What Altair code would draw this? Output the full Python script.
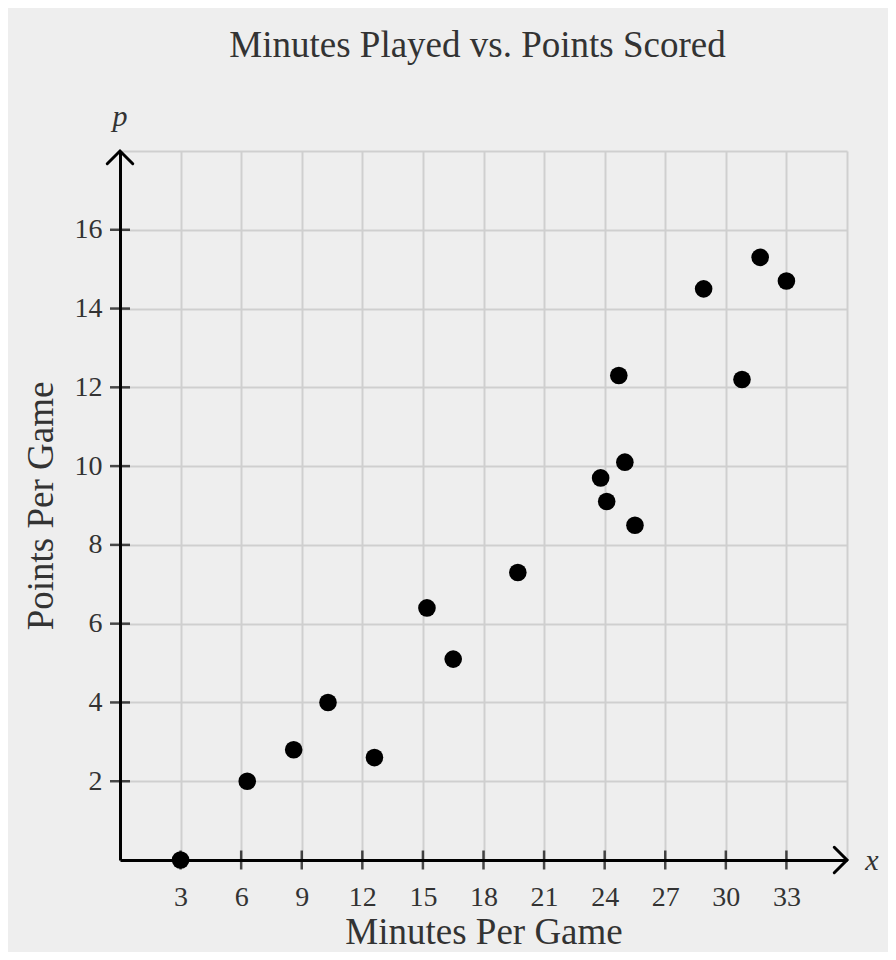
import altair as alt
import pandas as pd

# ---- data ----
minutes = [3.0, 6.3, 8.6, 10.3, 12.6, 15.2, 16.5, 19.7, 23.8, 24.1, 24.7, 25.0, 25.5, 28.9, 30.8, 31.7, 33.0]
points = [0.0, 2.0, 2.8, 4.0, 2.6, 6.4, 5.1, 7.3, 9.7, 9.1, 12.3, 10.1, 8.5, 14.5, 12.2, 15.3, 14.7]

x_tick_labels = [3, 6, 9, 12, 15, 18, 21, 24, 27, 30, 33]
y_tick_labels = [2, 4, 6, 8, 10, 12, 14, 16]
x_domain = [0, 36]
y_domain = [0, 18]
x_grid = [0, 1.5, 3, 4.5, 6, 7.5, 9, 10.5, 12, 13.5, 15, 16.5, 18, 19.5, 21, 22.5,
          24, 25.5, 27, 28.5, 30, 31.5, 33, 34.5, 36]
y_grid = list(range(0, 19))

FONT = "Liberation Serif"
TEXT = "#333333"
GRID = "#cfcfcf"
BG = "#eeeeee"

df = pd.DataFrame({"minutes": minutes, "points": points})
xt = pd.DataFrame({"minutes": x_tick_labels, "points": [y_domain[0]] * len(x_tick_labels)})
yt = pd.DataFrame({"minutes": [x_domain[0]] * len(y_tick_labels), "points": y_tick_labels})
x_end = pd.DataFrame({"minutes": [x_domain[1]], "points": [y_domain[0]]})
y_end = pd.DataFrame({"minutes": [x_domain[0]], "points": [y_domain[1]]})

xscale = alt.Scale(domain=x_domain, nice=False, zero=False)
yscale = alt.Scale(domain=y_domain, nice=False, zero=False)

x_axis = alt.Axis(
    values=x_grid, grid=True, gridColor=GRID, gridWidth=2,
    ticks=False, tickSize=0,
    labelExpr="(datum.value % 3 == 0 && datum.value > 0 && datum.value < 36) ? datum.label : ''",
    labelFont=FONT, labelFontSize=28, labelColor=TEXT, labelPadding=23, labelOverlap=False,
    domain=True, domainColor="black", domainWidth=3,
    title="Minutes Per Game", titleFont=FONT, titleFontSize=37, titleFontWeight="normal",
    titleColor=TEXT, titleY=83, titleBaseline="alphabetic",
)
y_axis = alt.Axis(
    values=y_grid, grid=True, gridColor=GRID, gridWidth=2,
    ticks=False, tickSize=0,
    labelExpr="(datum.value % 2 == 0 && datum.value > 0 && datum.value < 18) ? datum.label : ''",
    labelFont=FONT, labelFontSize=28, labelColor=TEXT, labelPadding=18, labelOverlap=False,
    domain=True, domainColor="black", domainWidth=3,
    title="Points Per Game", titleFont=FONT, titleFontSize=37, titleFontWeight="normal",
    titleColor=TEXT, titleX=-68, titleAngle=-90, titleBaseline="alphabetic", titleAlign="center",
)

X = alt.X("minutes:Q", scale=xscale, axis=x_axis)
Y = alt.Y("points:Q", scale=yscale, axis=y_axis)
Xn = alt.X("minutes:Q", scale=xscale)
Yn = alt.Y("points:Q", scale=yscale)

base = alt.Chart(df).mark_circle(size=310, color="black", opacity=1).encode(x=X, y=Y)

xticks = alt.Chart(xt).mark_tick(orient="vertical", size=19, thickness=2.5, color="black").encode(x=Xn, y=Yn)
yticks = alt.Chart(yt).mark_tick(orient="horizontal", size=20, thickness=2.5, color="black").encode(x=Xn, y=Yn)

x_arrow = alt.Chart(x_end).mark_point(
    shape="M -1 -1 L 0 0 L -1 1", size=650, filled=False, strokeWidth=3,
    color="black", opacity=1, strokeCap="round", strokeJoin="miter"
).encode(x=Xn, y=Yn)
y_arrow = alt.Chart(y_end).mark_point(
    shape="M -1 1 L 0 0 L 1 1", size=650, filled=False, strokeWidth=3,
    color="black", opacity=1, strokeCap="round", strokeJoin="miter"
).encode(x=Xn, y=Yn)

p_label = alt.Chart(y_end).mark_text(
    text="p", font=FONT, fontSize=30, fontStyle="italic", color=TEXT,
    align="center", baseline="alphabetic", dy=-25
).encode(x=Xn, y=Yn)
x_label = alt.Chart(x_end).mark_text(
    text="x", font=FONT, fontSize=30, fontStyle="italic", color=TEXT,
    align="center", baseline="middle", dx=25, dy=1
).encode(x=Xn, y=Yn)

chart = alt.layer(xticks, yticks, x_arrow, y_arrow, p_label, x_label, base).properties(
    width=727,
    height=709,
    padding={"left": 112, "top": 143, "right": 41, "bottom": 92},
    autosize=alt.AutoSizeParams(type="none"),
    background=BG,
    title=alt.TitleParams(
        "Minutes Played vs. Points Scored", font=FONT, fontSize=37, fontWeight="normal",
        color=TEXT, anchor="middle", frame="group", baseline="alphabetic", offset=8, dx=-6,
    ),
).configure_view(strokeWidth=0)

chart.save("out.html", embed_options={"renderer": "svg", "actions": False})
